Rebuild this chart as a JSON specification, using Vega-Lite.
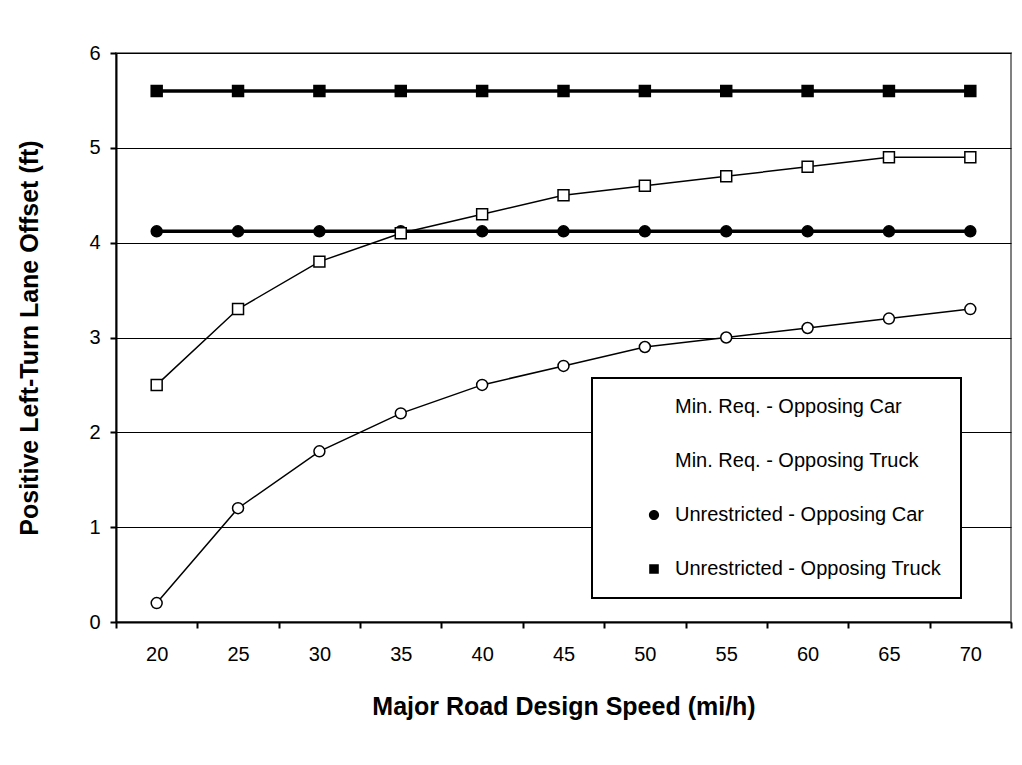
{
  "$schema": "https://vega.github.io/schema/vega-lite/v6.json",
  "width": 895,
  "height": 569,
  "autosize": {"type": "none"},
  "padding": {"left": 116, "top": 53, "right": 11, "bottom": 143},
  "background": "white",
  "config": {
    "font": "Liberation Sans",
    "view": {"stroke": "#808080", "strokeWidth": 2},
    "legend": {"strokeWidth": 2},
    "axis": {"labelFont": "Liberation Sans", "titleFont": "Liberation Sans", "labelColor": "black", "titleColor": "black", "domainColor": "black", "tickColor": "black", "domainWidth": 2, "tickWidth": 2}
  },
  "data": {
    "values": [
      {"speed": 20, "value": 0.2, "series": "Min. Req. - Opposing Car"},
      {"speed": 25, "value": 1.2, "series": "Min. Req. - Opposing Car"},
      {"speed": 30, "value": 1.8, "series": "Min. Req. - Opposing Car"},
      {"speed": 35, "value": 2.2, "series": "Min. Req. - Opposing Car"},
      {"speed": 40, "value": 2.5, "series": "Min. Req. - Opposing Car"},
      {"speed": 45, "value": 2.7, "series": "Min. Req. - Opposing Car"},
      {"speed": 50, "value": 2.9, "series": "Min. Req. - Opposing Car"},
      {"speed": 55, "value": 3.0, "series": "Min. Req. - Opposing Car"},
      {"speed": 60, "value": 3.1, "series": "Min. Req. - Opposing Car"},
      {"speed": 65, "value": 3.2, "series": "Min. Req. - Opposing Car"},
      {"speed": 70, "value": 3.3, "series": "Min. Req. - Opposing Car"},
      {"speed": 20, "value": 2.5, "series": "Min. Req. - Opposing Truck"},
      {"speed": 25, "value": 3.3, "series": "Min. Req. - Opposing Truck"},
      {"speed": 30, "value": 3.8, "series": "Min. Req. - Opposing Truck"},
      {"speed": 35, "value": 4.1, "series": "Min. Req. - Opposing Truck"},
      {"speed": 40, "value": 4.3, "series": "Min. Req. - Opposing Truck"},
      {"speed": 45, "value": 4.5, "series": "Min. Req. - Opposing Truck"},
      {"speed": 50, "value": 4.6, "series": "Min. Req. - Opposing Truck"},
      {"speed": 55, "value": 4.7, "series": "Min. Req. - Opposing Truck"},
      {"speed": 60, "value": 4.8, "series": "Min. Req. - Opposing Truck"},
      {"speed": 65, "value": 4.9, "series": "Min. Req. - Opposing Truck"},
      {"speed": 70, "value": 4.9, "series": "Min. Req. - Opposing Truck"},
      {"speed": 20, "value": 4.12, "series": "Unrestricted -  Opposing Car"},
      {"speed": 25, "value": 4.12, "series": "Unrestricted -  Opposing Car"},
      {"speed": 30, "value": 4.12, "series": "Unrestricted -  Opposing Car"},
      {"speed": 35, "value": 4.12, "series": "Unrestricted -  Opposing Car"},
      {"speed": 40, "value": 4.12, "series": "Unrestricted -  Opposing Car"},
      {"speed": 45, "value": 4.12, "series": "Unrestricted -  Opposing Car"},
      {"speed": 50, "value": 4.12, "series": "Unrestricted -  Opposing Car"},
      {"speed": 55, "value": 4.12, "series": "Unrestricted -  Opposing Car"},
      {"speed": 60, "value": 4.12, "series": "Unrestricted -  Opposing Car"},
      {"speed": 65, "value": 4.12, "series": "Unrestricted -  Opposing Car"},
      {"speed": 70, "value": 4.12, "series": "Unrestricted -  Opposing Car"},
      {"speed": 20, "value": 5.6, "series": "Unrestricted - Opposing Truck"},
      {"speed": 25, "value": 5.6, "series": "Unrestricted - Opposing Truck"},
      {"speed": 30, "value": 5.6, "series": "Unrestricted - Opposing Truck"},
      {"speed": 35, "value": 5.6, "series": "Unrestricted - Opposing Truck"},
      {"speed": 40, "value": 5.6, "series": "Unrestricted - Opposing Truck"},
      {"speed": 45, "value": 5.6, "series": "Unrestricted - Opposing Truck"},
      {"speed": 50, "value": 5.6, "series": "Unrestricted - Opposing Truck"},
      {"speed": 55, "value": 5.6, "series": "Unrestricted - Opposing Truck"},
      {"speed": 60, "value": 5.6, "series": "Unrestricted - Opposing Truck"},
      {"speed": 65, "value": 5.6, "series": "Unrestricted - Opposing Truck"},
      {"speed": 70, "value": 5.6, "series": "Unrestricted - Opposing Truck"}
    ]
  },
  "encoding": {
    "x": {
      "field": "speed", "type": "ordinal",
      "scale": {"type": "band", "paddingInner": 0, "paddingOuter": 0},
      "axis": {
        "title": "Major Road Design Speed (mi/h)", "titleFontSize": 25, "titleFontWeight": "bold",
        "titleY": 84, "titleBaseline": "middle",
        "labelAngle": 0, "labelFontSize": 20, "labelPadding": 16, "tickSize": 6,
        "tickBand": "extent", "grid": false
      }
    },
    "y": {
      "field": "value", "type": "quantitative",
      "scale": {"domain": [0, 6], "nice": false},
      "axis": {
        "title": "Positive Left-Turn Lane Offset (ft)", "titleFontSize": 25, "titleFontWeight": "bold",
        "titleX": -87, "titleBaseline": "middle",
        "values": [0, 1, 2, 3, 4, 5, 6], "labelFontSize": 20, "labelPadding": 10, "tickSize": 6,
        "grid": true, "gridColor": "black", "gridWidth": 1, "gridOpacity": 1
      }
    }
  },
  "layer": [
    {
      "transform": [{"filter": "indexof(datum.series,'Min') >= 0"}],
      "mark": {"type": "line", "color": "black", "strokeWidth": 1.5},
      "encoding": {"detail": {"field": "series"}}
    },
    {
      "transform": [{"filter": "indexof(datum.series,'Unrestricted') >= 0"}],
      "mark": {"type": "line", "color": "black", "strokeWidth": 3.5},
      "encoding": {"detail": {"field": "series"}}
    },
    {
      "transform": [{"filter": "indexof(datum.series,'Car') >= 0"}],
      "mark": {"type": "point", "shape": "circle", "filled": false, "stroke": "black", "strokeWidth": 1.5, "opacity": 1, "size": 120},
      "encoding": {
        "fill": {
          "condition": {"test": "indexof(datum.series,'Unrestricted') >= 0", "value": "black"},
          "value": "white"
        }
      }
    },
    {
      "transform": [{"filter": "indexof(datum.series,'Truck') >= 0"}],
      "mark": {"type": "point", "shape": "square", "filled": false, "stroke": "black", "strokeWidth": 1.5, "opacity": 1, "size": 120},
      "encoding": {
        "fill": {
          "condition": {"test": "indexof(datum.series,'Unrestricted') >= 0", "value": "black"},
          "value": "white"
        }
      }
    },
    {
      "mark": {"type": "point", "filled": false, "stroke": "black", "strokeWidth": 1.5, "opacity": 0},
      "encoding": {
        "shape": {
          "field": "series", "type": "nominal",
          "scale": {
            "domain": ["Min. Req. - Opposing Car", "Min. Req. - Opposing Truck", "Unrestricted -  Opposing Car", "Unrestricted - Opposing Truck"],
            "range": [
              "M-3.67,0H-0.85M0.85,0H3.67M-0.85,0A0.85,0.85,0,1,0,0.85,0A0.85,0.85,0,1,0,-0.85,0Z",
              "M-3.67,0H-0.8M0.8,0H3.67M-0.8,-0.8H0.8V0.8H-0.8Z",
              "M-3.67,0H-0.85M0.85,0H3.67M-0.85,0A0.85,0.85,0,1,0,0.85,0A0.85,0.85,0,1,0,-0.85,0Z",
              "M-3.67,0H-0.8M0.8,0H3.67M-0.8,-0.8H0.8V0.8H-0.8Z"
            ]
          },
          "legend": {
            "title": null, "orient": "none", "legendX": 476, "legendY": 325,
            "padding": 19, "strokeColor": "black", "fillColor": "white",
            "labelFontSize": 20, "labelColor": "black", "labelLimit": 500, "labelFont": "Liberation Sans",
            "symbolSize": 144, "symbolOffset": 33, "labelOffset": 11, "rowPadding": 34,
            "symbolOpacity": 1, "symbolStrokeColor": "black", "symbolStrokeWidth": 1.5
          }
        },
        "fill": {
          "field": "series", "type": "nominal",
          "scale": {
            "domain": ["Min. Req. - Opposing Car", "Min. Req. - Opposing Truck", "Unrestricted -  Opposing Car", "Unrestricted - Opposing Truck"],
            "range": ["white", "white", "black", "black"]
          }
        }
      }
    }
  ]
}
